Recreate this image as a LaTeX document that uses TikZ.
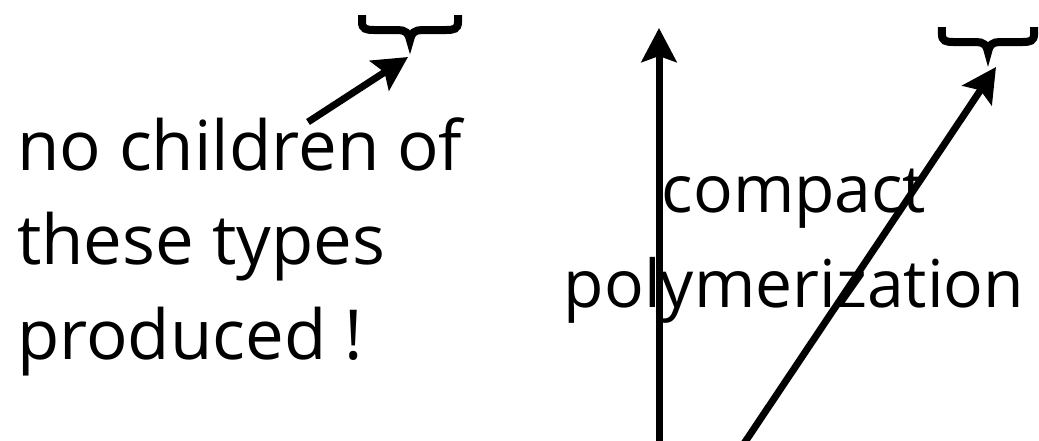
\documentclass[tikz,border=0pt]{standalone}
\usepackage{fontspec}
\setmainfont{Open Sans}
\usetikzlibrary{arrows.meta}
\begin{document}
\begin{tikzpicture}[x=1pt,y=-1pt,
  conn/.style={line width=7pt,-{Stealth[length=34pt,width=35pt,inset=6pt]}},
  notetext/.style={inner sep=0pt,anchor=base west,font=\fontsize{69}{69}\selectfont},
  centertext/.style={inner sep=0pt,anchor=base,font=\fontsize{66}{66}\selectfont},
  curlybrace/.pic={
    \draw[line width=8pt,line join=miter]
      (-48,0) -- (-48,7) .. controls (-48,14) and (-44,15) .. (-36,15)
      -- (-12,15) .. controls (-5,15) and (-1,18) .. (0,25)
      .. controls (1,18) and (5,15) .. (12,15)
      -- (36,15) .. controls (44,15) and (48,14) .. (48,7) -- (48,0);
  }
]
\clip (0,0) rectangle (1039,440);
\fill[white] (0,0) rectangle (1039,440);

% left note
\node[notetext] (n1) at (17,170) {no children of};
\node[notetext] (n2) at (17,264) {these types};
\node[notetext] (n3) at (17,359) {produced !};

% right label
\node[centertext] (c1) at (794,212) {compact};
\node[centertext] (c2) at (794,307) {polymerization};

% braces
\pic at (410,15) {curlybrace};
\pic[xscale=0.96] at (988,27) {curlybrace};

% arrow end points
\coordinate (a1from) at (308,122);
\coordinate (a1to) at (408,57);
\coordinate (vfrom) at (659,450);
\coordinate (vto) at (659,28);
\coordinate (dfrom) at (741,448);
\coordinate (dto) at (996,67);

\draw[conn] (a1from) -- (a1to);
\draw[conn] (vfrom) -- (vto);
\draw[conn] (dfrom) -- (dto);
\end{tikzpicture}
\end{document}
